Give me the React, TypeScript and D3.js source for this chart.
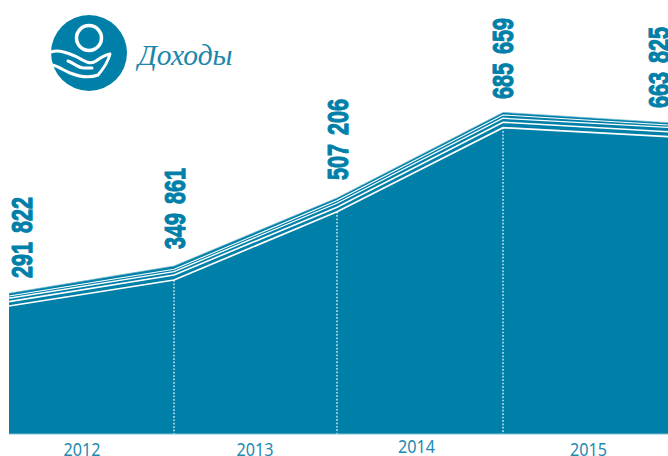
import React from "react";
import * as d3 from "d3";

const years = ["2012", "2013", "2014", "2015"];
const valueLabels = ["291 822", "349 861", "507 206", "685 659", "663 825"];
const pointIndex = [0, 1, 2, 3, 4];
const xPositions = [9, 174, 337, 503, 668];
const layer1 = [272400, 327700, 473000, 651800, 632600];
const layer2 = [9200, 10600, 9400, 11500, 10600];
const layer3 = [7200, 7000, 8500, 8500, 9400];
const layer4 = [4900, 5100, 5700, 7000, 4900];
const layer5 = [5700, 7000, 5700, 5500, 4900];
const layers = [layer1, layer2, layer3, layer4, layer5];
const lineWidths = [1.7, 1.6, 1.3, 1.1];

const BLUE = "#0080a8";
const W = 668, H = 456;

export default function App() {
  const xs = d3.scaleOrdinal<number, number>().domain(pointIndex).range(xPositions);
  const y = d3.scaleLinear().domain([0, 700000]).range([434, 105]);
  const cum = layers.map((_, k) =>
    pointIndex.map((i) => d3.sum(layers.slice(0, k + 1), (l) => l[i]))
  );
  const top = cum[cum.length - 1];
  const area = d3.area<number>().x((_, i) => xs(i)).y0(y(0)).y1((d) => y(d));
  const line = d3.line<number>().x((_, i) => xs(i)).y((d) => y(d));
  const labelPos = [
    { x: 31.5, y: 278 },
    { x: 185, y: 249 },
    { x: 348, y: 180 },
    { x: 513, y: 99 },
    { x: 669, y: 108 },
  ];
  const yearPos = [
    { x: 82, y: 455.5 },
    { x: 255, y: 455.5 },
    { x: 416.5, y: 452.5 },
    { x: 588.5, y: 455.5 },
  ];
  return (
    <svg width={W} height={H} viewBox={`0 0 ${W} ${H}`} style={{ position: "absolute", left: 0, top: 0, background: "#fff" }}>
      <path d={area(top) ?? ""} fill={BLUE} />
      {cum.slice(0, 4).map((c, k) => (
        <path key={k} d={line(c) ?? ""} fill="none" stroke="#fff" strokeWidth={lineWidths[k]} />
      ))}
      <path d={line(top) ?? ""} fill="none" stroke="#6fb6cd" strokeWidth={0.7} />
      {[1, 2, 3].map((i) => (
        <line key={i} x1={xs(i)} x2={xs(i)} y1={y(cum[0][i])} y2={y(0)} stroke="#fff" strokeWidth={1.2} strokeDasharray="1.7 1.7" />
      ))}
      <line x1={9} x2={668} y1={434} y2={434} stroke="#7fbfd3" strokeWidth={1} />
      {valueLabels.map((t, i) => (
        <text
          key={t}
          transform={`translate(${labelPos[i].x},${labelPos[i].y}) rotate(-90)`}
          fontFamily="'Liberation Sans', sans-serif"
          fontWeight={700}
          fontSize={30}
          fill={BLUE}
          stroke={BLUE}
          strokeWidth={1.1}
          wordSpacing={4}
          textLength={81}
          lengthAdjust="spacingAndGlyphs"
        >
          {t}
        </text>
      ))}
      {years.map((t, i) => (
        <text key={t} x={yearPos[i].x} y={yearPos[i].y} textAnchor="middle" fontFamily="'Noto Sans', sans-serif" fontSize={18} fontWeight={400} fill="#1f8ab0" textLength={37} lengthAdjust="spacingAndGlyphs">
          {t}
        </text>
      ))}
      <circle cx={89} cy={53} r={38} fill={BLUE} />
      <circle cx={89} cy={38} r={12.5} fill="none" stroke="#fff" strokeWidth={3.5} />
      <g fill="none" stroke="#fff" strokeWidth={3} strokeLinecap="round" strokeLinejoin="round">
        <path d="M51 52 C60 49,70 54,77 57 C84 61,90 65,96 61 C100 58,105 55,110 54 C108 62,104 68,98 75 C90 78,80 77,70 73 C63 70,58 66,52 65" />
        <path d="M68 61 C74 63,78 68,84 68 L92 68" />
      </g>
      <text x={138} y={65} fontFamily="'Liberation Serif', serif" fontStyle="italic" fontSize={29.5} fill="#1b87ab">
        Доходы
      </text>
    </svg>
  );
}
